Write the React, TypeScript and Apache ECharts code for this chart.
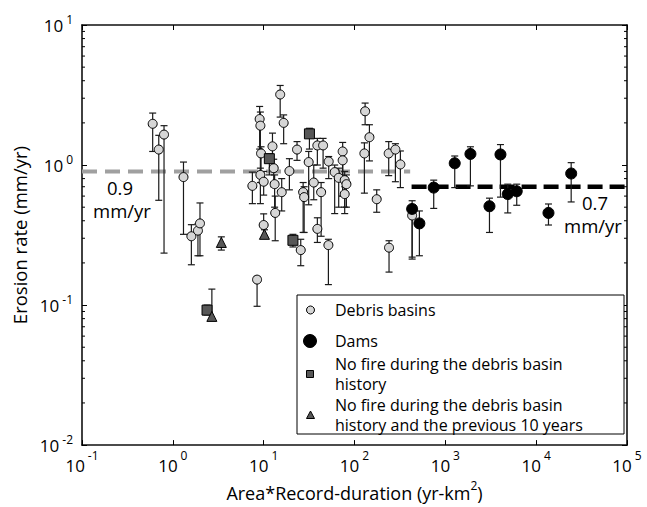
import React, { useEffect, useRef } from "react";
import * as echarts from "echarts";

// [area*duration (yr-km2), erosion rate (mm/yr), lower bound, upper bound]
const debrisBasins: number[][] = [
  [0.6, 1.97, 1.25, 2.35],
  [0.7, 1.29, 0.56, 1.63],
  [0.8, 1.65, 0.235, 1.91],
  [1.31, 0.82, 0.32, 1.05],
  [1.6, 0.31, 0.194, 0.375],
  [1.89, 0.34, 0.225, 0.38],
  [1.99, 0.383, 0.225, 0.536],
  [8.46, 0.152, 0.098, 0.16],
  [15.2, 3.19, 2.2, 3.7],
  [9.03, 2.13, 1.3, 2.62],
  [9.2, 1.91, 0.75, 2.39],
  [9.36, 1.21, 0.75, 1.35],
  [9.2, 0.85, 0.53, 0.95],
  [7.51, 0.71, 0.53, 0.89],
  [10.0, 0.76, 0.61, 0.9],
  [10.0, 0.373, 0.3, 0.448],
  [12.5, 1.36, 0.95, 1.69],
  [12.9, 0.95, 0.7, 1.1],
  [13.2, 0.73, 0.5, 0.85],
  [13.4, 0.455, 0.288, 0.6],
  [15.8, 0.64, 0.47, 0.8],
  [16.6, 2.0, 1.42, 2.28],
  [19.2, 0.906, 0.665, 1.11],
  [23.3, 1.29, 1.08, 1.47],
  [25.6, 0.247, 0.191, 0.295],
  [27.2, 0.64, 0.33, 0.75],
  [27.9, 0.59, 0.33, 0.7],
  [31.3, 1.05, 0.52, 1.25],
  [35.6, 0.75, 0.565, 1.0],
  [39.0, 1.38, 1.0, 1.55],
  [39.0, 0.35, 0.28, 0.42],
  [42.9, 0.64, 0.31, 0.75],
  [45.1, 1.38, 0.95, 1.55],
  [51.6, 0.268, 0.14, 0.295],
  [52.0, 1.06, 0.8, 1.15],
  [60.5, 0.89, 0.45, 1.0],
  [67.0, 0.81, 0.5, 0.95],
  [74.1, 1.25, 0.6, 1.45],
  [74.1, 1.08, 0.6, 1.2],
  [78.0, 0.78, 0.5, 0.9],
  [81.5, 0.73, 0.5, 0.85],
  [78.0, 0.62, 0.45, 0.7],
  [128.5, 1.21, 0.63, 1.44],
  [130.9, 2.42, 1.94, 2.77],
  [146, 1.58, 1.07, 1.94],
  [175.6, 0.57, 0.46, 0.665],
  [238, 1.21, 0.84, 1.47],
  [240, 0.257, 0.172, 0.288],
  [282, 1.29, 0.76, 1.42],
  [320, 1.01, 0.69, 1.26],
  [431, 0.436, 0.213, 0.48],
];

const dams: number[][] = [
  [431, 0.486, 0.22, 0.556],
  [518, 0.383, 0.225, 0.47],
  [745, 0.69, 0.49, 0.78],
  [1269, 1.03, 0.69, 1.16],
  [1889, 1.2, 0.71, 1.35],
  [3061, 0.508, 0.33, 0.58],
  [4045, 1.19, 0.59, 1.4],
  [4866, 0.62, 0.455, 0.73],
  [6110, 0.65, 0.516, 0.73],
  [13660, 0.455, 0.373, 0.527],
  [24290, 0.87, 0.545, 1.04],
];

const noFire: number[][] = [
  [11.55, 1.11, 0.85, 1.2],
  [31.9, 1.67, 1.3, 1.83],
  [21.0, 0.29, 0.26, 0.32],
  [2.38, 0.092, 0.085, 0.1],
];

const noFirePrev10: number[][] = [
  [10.2, 0.32, 0.3, 0.345],
  [3.42, 0.28, 0.247, 0.307],
  [2.69, 0.083, 0.078, 0.13],
];

const debrisMean = 0.9;
const damsMean = 0.7;
const debrisMeanSpan = [0.1, 410];
const damsMeanSpan = [425, 100000];

const xRange = [0.1, 100000];
const yRange = [0.01, 10];
const yMinorTicks = [
  0.02, 0.03, 0.04, 0.05, 0.06, 0.07, 0.08, 0.09,
  0.2, 0.3, 0.4, 0.5, 0.6, 0.7, 0.8, 0.9,
  2, 3, 4, 5, 6, 7, 8, 9,
];

const FONT = '"Open Sans", "DejaVu Sans", sans-serif';

const expFormatter = (v: number) => {
  const e = Math.round(Math.log10(v));
  return `{b|10}{s|${e}}`;
};

const errRender = (params: any, api: any) => {
  const x = api.value(0);
  const lo = api.value(2);
  const hi = api.value(3);
  const p1 = api.coord([x, hi]);
  const p2 = api.coord([x, lo]);
  const cap = 3.5;
  const st = { stroke: "#1a1a1a", lineWidth: 1.2 };
  return {
    type: "group",
    children: [
      { type: "line", shape: { x1: p1[0], y1: p1[1], x2: p2[0], y2: p2[1] }, style: st },
      { type: "line", shape: { x1: p1[0] - cap, y1: p1[1], x2: p1[0] + cap, y2: p1[1] }, style: st },
      { type: "line", shape: { x1: p2[0] - cap, y1: p2[1], x2: p2[0] + cap, y2: p2[1] }, style: st },
    ],
  };
};

const minorTickRender = (params: any, api: any) => {
  const v = api.value(1);
  const y = api.coord([1, v])[1];
  const cs = params.coordSys;
  const len = 3;
  const st = { stroke: "#000", lineWidth: 1 };
  return {
    type: "group",
    children: [
      { type: "line", shape: { x1: cs.x, y1: y, x2: cs.x + len, y2: y }, style: st },
      { type: "line", shape: { x1: cs.x + cs.width - len, y1: y, x2: cs.x + cs.width, y2: y }, style: st },
    ],
  };
};

const txt = (x: number, y: number, text: string, size = 16, align = "left", lh = 20) => ({
  type: "text",
  x,
  y,
  z: 100,
  style: {
    text,
    fill: "#000",
    fontSize: size,
    fontFamily: FONT,
    lineHeight: lh,
    align,
    textAlign: align,
    verticalAlign: "middle",
    textVerticalAlign: "middle",
  },
});

export default function App() {
  const ref = useRef<HTMLDivElement>(null);
  useEffect(() => {
    if (!ref.current) return;
    const chart = echarts.init(ref.current, undefined, { renderer: "svg" });
    const axisLine = { show: true, lineStyle: { color: "#111", width: 1.6 } };
    const axisTick = { show: true, inside: true, length: 5, lineStyle: { color: "#000", width: 1 } };
    const xRich = {
      b: { fontSize: 17, fontFamily: FONT, color: "#000", padding: [8, 0, 0, 0] },
      s: { fontSize: 12, fontFamily: FONT, color: "#000", verticalAlign: "top", padding: [0, 0, 0, 3] },
    };
    const yRich = {
      b: { fontSize: 17, fontFamily: FONT, color: "#000" },
      s: { fontSize: 12, fontFamily: FONT, color: "#000", verticalAlign: "top", padding: [0, 0, 12, 3] },
    };
    const option: any = {
      animation: false,
      backgroundColor: "#fff",
      grid: { left: 82, top: 25, width: 545, height: 424.5, containLabel: false },
      xAxis: [
        {
          type: "log",
          logBase: 10,
          min: xRange[0],
          max: xRange[1],
          position: "bottom",
          axisLine,
          axisTick,
          splitLine: { show: false },
          axisLabel: { formatter: expFormatter, rich: xRich, margin: 4 },
          name: "{n|Area*Record-duration (yr-km}{sup|2}{n|)}",
          nameLocation: "middle",
          nameGap: 30,
          nameTextStyle: {
            rich: {
              n: { fontSize: 18, fontFamily: FONT, color: "#000", padding: [5, 0, 0, 0] },
              sup: { fontSize: 12, fontFamily: FONT, color: "#000", verticalAlign: "top" },
            },
          },
        },
        {
          type: "log",
          logBase: 10,
          min: xRange[0],
          max: xRange[1],
          position: "top",
          axisLine,
          axisTick,
          splitLine: { show: false },
          axisLabel: { show: false },
        },
      ],
      yAxis: [
        {
          type: "log",
          logBase: 10,
          min: yRange[0],
          max: yRange[1],
          position: "left",
          axisLine,
          axisTick,
          splitLine: { show: false },
          axisLabel: { formatter: expFormatter, rich: yRich, margin: 9 },
          name: "Erosion rate (mm/yr)",
          nameLocation: "middle",
          nameGap: 52,
          nameTextStyle: { fontSize: 18.5, fontFamily: FONT, color: "#000" },
        },
        {
          type: "log",
          logBase: 10,
          min: yRange[0],
          max: yRange[1],
          position: "right",
          axisLine,
          axisTick,
          splitLine: { show: false },
          axisLabel: { show: false },
        },
      ],
      series: [
        {
          type: "custom",
          name: "yMinor",
          renderItem: minorTickRender,
          data: yMinorTicks.map((v) => [1, v]),
          encode: { x: 0, y: 1 },
          clip: false,
          silent: true,
          z: 1,
        },
        {
          type: "line",
          name: "Debris mean",
          data: debrisMeanSpan.map((x) => [x, debrisMean]),
          symbol: "none",
          lineStyle: { color: "#a0a0a0", width: 4, type: [15, 8] },
          z: 2,
        },
        {
          type: "line",
          name: "Dams mean",
          data: damsMeanSpan.map((x) => [x, damsMean]),
          symbol: "none",
          lineStyle: { color: "#000", width: 4.5, type: [15, 7] },
          z: 2,
        },
        ...[debrisBasins, dams, noFire, noFirePrev10].map((d) => ({
          type: "custom",
          renderItem: errRender,
          data: d,
          encode: { x: 0, y: 1 },
          z: 3,
          silent: true,
        })),
        {
          type: "scatter",
          name: "Debris basins",
          data: debrisBasins.map((d) => [d[0], d[1]]),
          symbol: "circle",
          symbolSize: 9,
          itemStyle: { color: "#d6d6d6", borderColor: "#000", borderWidth: 1, opacity: 1 },
          z: 4,
        },
        {
          type: "scatter",
          name: "Dams",
          data: dams.map((d) => [d[0], d[1]]),
          symbol: "circle",
          symbolSize: 11,
          itemStyle: { color: "#000", borderColor: "#000", borderWidth: 1, opacity: 1 },
          z: 5,
        },
        {
          type: "scatter",
          name: "No fire during the debris basin history",
          data: noFire.map((d) => [d[0], d[1]]),
          symbol: "rect",
          symbolSize: 10,
          itemStyle: { color: "#575757", borderColor: "#000", borderWidth: 1, opacity: 1 },
          z: 6,
        },
        {
          type: "scatter",
          name: "No fire during the debris basin history and the previous 10 years",
          data: noFirePrev10.map((d) => [d[0], d[1]]),
          symbol: "triangle",
          symbolSize: 10,
          itemStyle: { color: "#575757", borderColor: "#000", borderWidth: 1, opacity: 1 },
          z: 6,
        },
      ],
      graphic: [
        txt(120, 187.5, "0.9", 18.5, "center", 23),
        txt(122, 210.5, "mm/yr", 18.5, "center", 23),
        txt(595, 202, "0.7", 18.5, "center", 23),
        txt(593, 225, "mm/yr", 18.5, "center", 23),
        {
          type: "rect",
          z: 90,
          shape: { x: 297, y: 295, width: 327, height: 139 },
          style: { fill: "#fff", stroke: "#000", lineWidth: 1 },
        },
        {
          type: "circle",
          z: 95,
          shape: { cx: 310.5, cy: 310, r: 4 },
          style: { fill: "#d6d6d6", stroke: "#000", lineWidth: 1 },
        },
        txt(335, 310, "Debris basins"),
        {
          type: "circle",
          z: 95,
          shape: { cx: 310, cy: 341, r: 6.5 },
          style: { fill: "#000", stroke: "#000", lineWidth: 1 },
        },
        txt(335, 341, "Dams"),
        {
          type: "rect",
          z: 95,
          shape: { x: 306.5, y: 370.5, width: 7, height: 7 },
          style: { fill: "#575757", stroke: "#000", lineWidth: 1 },
        },
        txt(335, 373.5, "No fire during the debris basin\nhistory"),
        {
          type: "polygon",
          z: 95,
          shape: { points: [[310.5, 411], [314.5, 418.5], [306.5, 418.5]] },
          style: { fill: "#575757", stroke: "#000", lineWidth: 1 },
        },
        txt(335, 414.5, "No fire during the debris basin\nhistory and the previous 10 years"),
      ],
    };
    chart.setOption(option);
    return () => chart.dispose();
  }, []);
  return (
    <div
      ref={ref}
      style={{ position: "fixed", left: 0, top: 0, width: 647, height: 507, background: "#fff" }}
    />
  );
}
